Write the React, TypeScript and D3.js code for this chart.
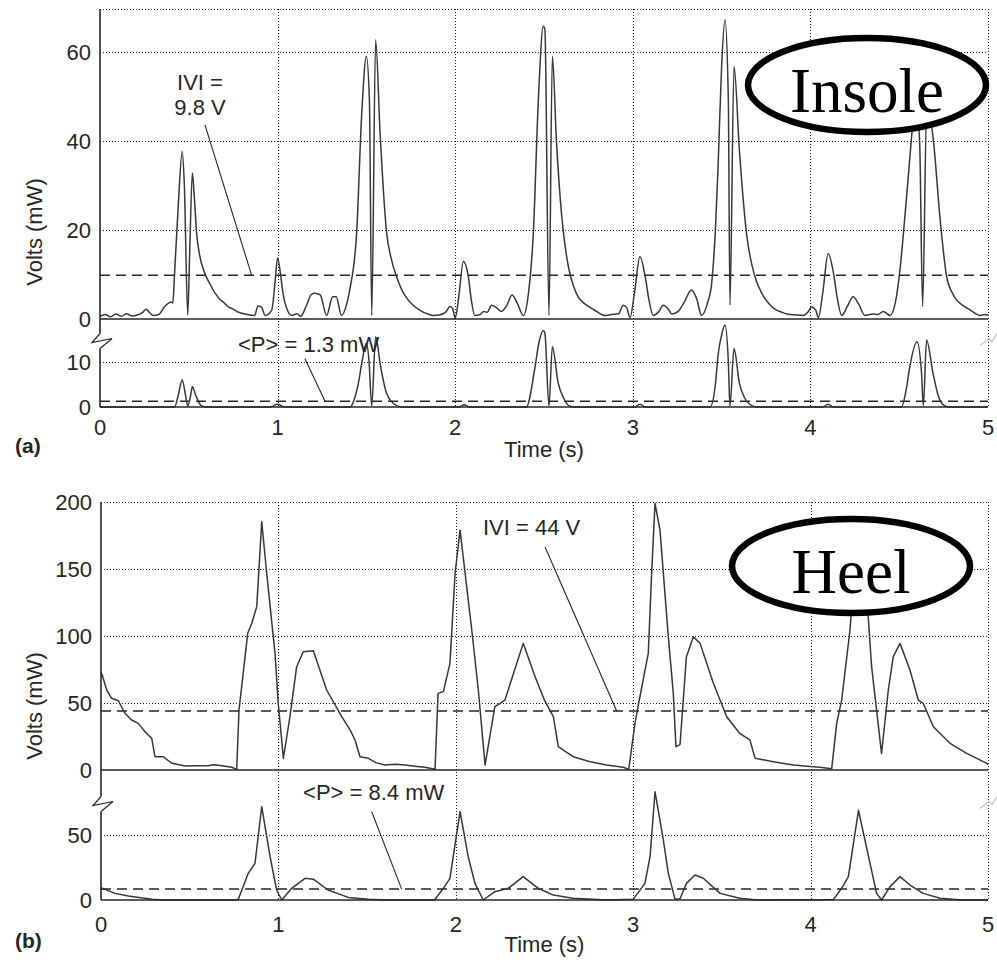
import React, { useEffect, useRef } from 'react'
import * as d3 from 'd3'

const W = 997
const H = 963

// time axis (s)
const timeTicks = [0, 1, 2, 3, 4, 5]

// (a) insole - |V| trace (top) and power trace (bottom)
const insoleVoltTicks = [0, 20, 40, 60]
const insolePowerTicks = [0, 10]
const insoleT = [
	0, 0.03, 0.06, 0.09, 0.12, 0.15, 0.18, 0.21, 0.24, 0.26, 0.28, 0.3, 0.33, 0.36, 0.38, 0.4, 0.41,
	0.42, 0.44, 0.463, 0.475, 0.494, 0.505, 0.52, 0.53, 0.544, 0.56, 0.59, 0.62, 0.648, 0.68, 0.7,
	0.72, 0.75, 0.78, 0.8, 0.83, 0.87, 0.89, 0.91, 0.93, 0.967, 0.985, 1.0, 1.015, 1.03, 1.05, 1.08,
	1.11, 1.13, 1.16, 1.19, 1.21, 1.24, 1.276, 1.31, 1.33, 1.36, 1.39, 1.41, 1.445, 1.473, 1.5,
	1.517, 1.53, 1.552, 1.577, 1.614, 1.64, 1.67, 1.7, 1.727, 1.76, 1.8, 1.84, 1.875, 1.91, 1.95,
	1.97, 1.985, 2.0, 2.02, 2.046, 2.074, 2.09, 2.11, 2.14, 2.16, 2.18, 2.205, 2.23, 2.26, 2.29,
	2.32, 2.35, 2.384, 2.41, 2.44, 2.468, 2.496, 2.505, 2.528, 2.547, 2.57, 2.6, 2.637, 2.665,
	2.693, 2.73, 2.768, 2.8, 2.843, 2.88, 2.92, 2.946, 2.965, 2.984, 3.01, 3.04, 3.07, 3.09, 3.115,
	3.145, 3.172, 3.2, 3.22, 3.256, 3.29, 3.33, 3.36, 3.387, 3.42, 3.444, 3.465, 3.48, 3.5, 3.519,
	3.538, 3.547, 3.57, 3.6, 3.64, 3.688, 3.73, 3.763, 3.8, 3.84, 3.87, 3.92, 3.96, 3.985, 4.007,
	4.03, 4.045, 4.07, 4.1, 4.13, 4.15, 4.176, 4.21, 4.24, 4.27, 4.307, 4.35, 4.38, 4.41, 4.448,
	4.48, 4.5, 4.54, 4.57, 4.59, 4.615, 4.632, 4.655, 4.69, 4.73, 4.767, 4.8, 4.82, 4.86, 4.9, 4.93,
	4.955, 4.98, 5.0,
]
const insoleV = [
	0.6, 1.0, 0.5, 1.1, 0.6, 1.2, 0.7, 0.9, 1.5, 2.2, 1.4, 0.8, 1.0, 2.6, 3.4, 3.8, 3.6, 10.3, 25,
	37.6, 30, 0.9, 15, 32.8, 28, 19.3, 14.5, 10.3, 7.8, 5.8, 4.2, 3.6, 2.8, 2.2, 1.5, 1.3, 1.0, 0.8,
	2.9, 2.6, 0.8, 2.0, 8, 13.7, 10.5, 5.8, 2.5, 0.8, 1.2, 0.6, 2.8, 5.5, 5.8, 5.4, 0.8, 5.0, 5.0,
	0.8, 3.5, 7.3, 19.3, 45.5, 59, 49, 0.8, 62.7, 41.8, 19.3, 13.5, 9.5, 6.5, 4.7, 3.2, 2.0, 1.2,
	0.8, 0.9, 1.7, 2.8, 2.4, 0.2, 5, 12.9, 9.5, 4.5, 0.8, 1.0, 1.7, 1.5, 3.1, 2.6, 1.7, 3.0, 5.4,
	3.5, 0.8, 5, 19.3, 49, 65.7, 65, 0.8, 59, 40, 23, 11.8, 7.5, 4.9, 3.4, 2.4, 1.6, 0.8, 1.0, 1.2,
	3.1, 2.6, 0.3, 6, 14, 9.5, 4.5, 0.8, 1.6, 3.1, 2.2, 1.1, 1.7, 3.8, 6.5, 4.5, 0.8, 3.5, 8, 20, 34,
	56.7, 67.2, 49, 3.1, 56.7, 38, 19.3, 9.5, 5.5, 3.6, 2.2, 1.5, 1.1, 0.9, 0.8, 1.5, 2.7, 2.0, 0.3,
	6, 14.7, 10.3, 5, 0.8, 3, 5, 3.5, 0.8, 1.1, 1.0, 1.7, 0.8, 4, 9.5, 26.7, 41, 50, 40, 2.8, 48, 41,
	22.6, 9.5, 5.8, 4.4, 3.0, 2.0, 1.2, 0.8, 1.0, 0.9,
]
const insolePT = [
	0, 0.42, 0.44, 0.463, 0.48, 0.494, 0.51, 0.52, 0.54, 0.57, 0.6, 0.96, 1.0, 1.04, 1.41, 1.43,
	1.455, 1.475, 1.5, 1.515, 1.53, 1.552, 1.58, 1.614, 1.67, 1.7, 2.02, 2.05, 2.08, 2.4, 2.45, 2.47,
	2.496, 2.505, 2.528, 2.547, 2.58, 2.61, 2.64, 2.67, 3.01, 3.04, 3.07, 3.435, 3.465, 3.48, 3.5,
	3.519, 3.538, 3.547, 3.57, 3.6, 3.63, 3.67, 3.7, 4.07, 4.1, 4.13, 4.513, 4.54, 4.56, 4.6, 4.625,
	4.636, 4.654, 4.69, 4.72, 4.75, 4.78, 5.0,
]
const insoleP = [
	0, 0, 2.5, 6, 3, 0.2, 2.5, 4.5, 2.5, 0.3, 0, 0, 0.6, 0, 0, 1.5, 5.3, 10, 14.2, 10, 0.2, 15.6, 9,
	3, 0.3, 0, 0, 0.5, 0, 0, 9, 14, 17, 16.4, 0.2, 13.4, 5.3, 2, 0.3, 0, 0, 0.6, 0, 0, 5, 11.5, 16,
	18.2, 10, 0.2, 13, 5.3, 2, 0.3, 0, 0, 0.6, 0, 0, 4, 9, 14.5, 8, 0.3, 14.9, 7.6, 2.5, 0.4, 0, 0,
]
const insoleVabs = 9.8
const insolePavg = 1.3

// (b) heel
const heelVoltTicks = [0, 50, 100, 150, 200]
const heelPowerTicks = [0, 50]
const heelT = [
	0, 0.007, 0.032, 0.06, 0.098, 0.135, 0.173, 0.21, 0.248, 0.286, 0.304, 0.351, 0.4, 0.473, 0.54,
	0.605, 0.635, 0.661, 0.7, 0.737, 0.765, 0.778, 0.827, 0.85, 0.878, 0.906, 0.934, 0.981, 0.999,
	1.028, 1.065, 1.103, 1.14, 1.197, 1.272, 1.357, 1.404, 1.432, 1.46, 1.507, 1.55, 1.6, 1.66,
	1.714, 1.77, 1.826, 1.883, 1.9, 1.93, 1.967, 1.996, 2.024, 2.09, 2.127, 2.165, 2.22, 2.25,
	2.277, 2.38, 2.447, 2.5, 2.55, 2.578, 2.606, 2.662, 2.757, 2.85, 2.944, 2.975, 3.01, 3.029,
	3.085, 3.104, 3.123, 3.151, 3.198, 3.226, 3.241, 3.264, 3.3, 3.339, 3.377, 3.452, 3.527, 3.6,
	3.658, 3.687, 3.79, 3.903, 3.98, 4.053, 4.119, 4.147, 4.175, 4.222, 4.265, 4.325, 4.344, 4.4,
	4.438, 4.466, 4.504, 4.56, 4.607, 4.635, 4.692, 4.786, 4.88, 4.993, 5.0,
]
const heelV = [
	73, 70.9, 59.7, 53.5, 51.7, 42.3, 37.3, 34.8, 28.6, 23.6, 9.9, 9.9, 5, 3, 3.2, 3.2, 4.0, 3.5,
	2.8, 2, 0.5, 44.8, 102, 109.5, 121.9, 185.3, 146.8, 87, 49.8, 8.7, 39.8, 77.1, 88.3, 89, 59.7,
	39.8, 29.9, 22.4, 9.9, 8.7, 5.5, 3.7, 4.2, 3.7, 2.8, 2, 0.5, 57.2, 58.5, 79.6, 146.8, 179,
	104.5, 59.7, 3.7, 47.3, 49.8, 52.2, 94.5, 69.6, 52, 39.8, 17.4, 14.9, 9.9, 6.2, 3.7, 2, 0.5,
	34.8, 48.5, 87, 146.8, 199, 179, 99.5, 57.2, 17.4, 19, 84.6, 99.5, 94.5, 64.7, 39.8, 27.4,
	22.4, 8.7, 6.2, 3.7, 2.8, 2, 1, 34.8, 52.2, 104.5, 180, 114, 77, 12.4, 59.7, 84.6, 94.5, 74.6,
	52.2, 49.8, 32.3, 19.9, 12.4, 5, 4,
]
const heelPT = [
	0, 0.007, 0.079, 0.154, 0.286, 0.35, 0.75, 0.774, 0.83, 0.868, 0.906, 0.953, 0.99, 1.019, 1.075,
	1.15, 1.197, 1.28, 1.394, 1.507, 1.6, 1.88, 1.93, 1.967, 2.024, 2.07, 2.108, 2.155, 2.22, 2.296,
	2.38, 2.465, 2.55, 2.66, 2.85, 3.0, 3.066, 3.095, 3.123, 3.17, 3.198, 3.236, 3.264, 3.3, 3.348,
	3.395, 3.49, 3.6, 3.7, 4.128, 4.175, 4.213, 4.27, 4.335, 4.372, 4.4, 4.448, 4.504, 4.56, 4.635,
	4.73, 4.85, 5.0,
]
const heelP = [
	9.5, 9, 5.1, 3.1, 0.5, 0, 0, 0.5, 20.5, 28.2, 71.8, 33.3, 7.7, 0, 9, 16.7, 16, 7.7, 2, 0.5, 0, 0,
	9, 16.7, 68, 33.3, 12.8, 0, 6.4, 9, 18, 9, 3.8, 1.3, 0, 0.5, 12.8, 33.3, 83.3, 46, 20.5, 0.5, 1,
	12.8, 19.2, 16.7, 5.1, 1.3, 0, 0.3, 9, 18, 69, 28.2, 5.1, 0, 10.3, 18, 11.5, 5.1, 1.3, 0, 0,
]
const heelVabs = 44
const heelPavg = 8.4

const FONT = "'Liberation Sans', Arial, Helvetica, sans-serif"
const INK = '#262626'

function drawPanel(svg, p) {
	const x = d3.scaleLinear().domain([0, 5]).range([p.left, p.right])
	const yM = d3.scaleLinear().domain([0, p.mainMax]).range([p.mainZero, p.mainTop])
	const yS = d3.scaleLinear().domain([0, p.subMax]).range([p.subZero, p.subTop])
	const g = svg.append('g')

	const grid = g
		.append('g')
		.attr('stroke', '#1e1e1e')
		.attr('stroke-width', 1)
		.attr('stroke-dasharray', '1,2')
		.attr('shape-rendering', 'crispEdges')
	const hMain = p.mainTicks.filter((d) => d > 0).concat([p.mainMax])
	grid
		.selectAll(null)
		.data(hMain)
		.enter()
		.append('line')
		.attr('x1', x(0))
		.attr('x2', x(5))
		.attr('y1', (d) => Math.round(yM(d)) + 0.5)
		.attr('y2', (d) => Math.round(yM(d)) + 0.5)
	grid
		.selectAll(null)
		.data(p.subTicks.filter((d) => d > 0))
		.enter()
		.append('line')
		.attr('x1', x(0))
		.attr('x2', x(5))
		.attr('y1', (d) => Math.round(yS(d)) + 0.5)
		.attr('y2', (d) => Math.round(yS(d)) + 0.5)
	grid
		.selectAll(null)
		.data(timeTicks.filter((d) => d > 0))
		.enter()
		.append('line')
		.attr('x1', (d) => Math.round(x(d)) + 0.5)
		.attr('x2', (d) => Math.round(x(d)) + 0.5)
		.attr('y1', yM(p.mainMax))
		.attr('y2', yS(0))

	// mean lines
	const dash = g.append('g').attr('stroke', INK).attr('stroke-width', 1.5).attr('stroke-dasharray', '10,6')
	dash.append('line').attr('x1', x(0)).attr('x2', x(5)).attr('y1', yM(p.vAbs)).attr('y2', yM(p.vAbs))
	dash.append('line').attr('x1', x(0)).attr('x2', x(5)).attr('y1', yS(p.pAvg)).attr('y2', yS(p.pAvg))

	// traces
	const lineM = d3
		.line()
		.curve(p.curve)
		.x((d) => x(d[0]))
		.y((d) => yM(d[1]))
	const lineS = d3
		.line()
		.curve(p.curve)
		.x((d) => x(d[0]))
		.y((d) => yS(d[1]))
	g.append('path')
		.attr('d', lineM(p.vT.map((t, i) => [t, p.v[i]])))
		.attr('fill', 'none')
		.attr('stroke', '#383838')
		.attr('stroke-width', 1.5)
		.attr('stroke-linejoin', 'round')
	g.append('path')
		.attr('d', lineS(p.pT.map((t, i) => [t, p.p[i]])))
		.attr('fill', 'none')
		.attr('stroke', '#383838')
		.attr('stroke-width', 1.5)
		.attr('stroke-linejoin', 'round')

	// zero lines and left axis with break
	const ax = g.append('g').attr('stroke', INK).attr('stroke-width', 1.6).attr('fill', 'none')
	ax.append('line').attr('x1', x(0)).attr('x2', x(5)).attr('y1', yM(0)).attr('y2', yM(0))
	ax.append('line').attr('x1', x(0)).attr('x2', x(5)).attr('y1', yS(0)).attr('y2', yS(0))
	const bt = yS(p.subMax)
	ax.append('line').attr('x1', x(0)).attr('x2', x(0)).attr('y1', yM(p.mainMax)).attr('y2', bt - 6)
	ax.append('line').attr('x1', x(0)).attr('x2', x(0)).attr('y1', bt + 9).attr('y2', yS(0))
	ax.append('polyline')
		.attr('stroke-width', 1.2)
		.attr('points', `${x(0)},${bt - 6} ${x(0) - 8},${bt + 3} ${x(0) + 12},${bt - 1} ${x(0)},${bt + 9}`)
	g.append('polyline')
		.attr('fill', 'none')
		.attr('stroke', '#c4c4c4')
		.attr('stroke-width', 1.2)
		.attr('points', `${x(5) - 8},${bt + 6} ${x(5) + 1},${bt - 1} ${x(5) + 4},${bt + 2} ${x(5) + 9},${bt - 6}`)

	// tick labels
	const lab = g.append('g').attr('font-family', FONT).attr('font-size', 22).attr('fill', INK)
	lab.selectAll(null)
		.data(p.mainTicks)
		.enter()
		.append('text')
		.attr('x', p.left - 9)
		.attr('y', (d) => yM(d))
		.attr('dy', '0.36em')
		.attr('text-anchor', 'end')
		.text((d) => d)
	lab.selectAll(null)
		.data(p.subTicks)
		.enter()
		.append('text')
		.attr('x', p.left - 9)
		.attr('y', (d) => yS(d))
		.attr('dy', '0.36em')
		.attr('text-anchor', 'end')
		.text((d) => d)
	lab.selectAll(null)
		.data(timeTicks)
		.enter()
		.append('text')
		.attr('x', (d) => x(d))
		.attr('y', p.tickY)
		.attr('text-anchor', 'middle')
		.text((d) => d)
	lab.append('text')
		.attr('x', (p.left + p.right) / 2)
		.attr('y', p.titleY)
		.attr('text-anchor', 'middle')
		.text('Time (s)')
	lab.append('text')
		.attr('transform', `translate(42, ${p.yLabelY}) rotate(-90)`)
		.attr('text-anchor', 'middle')
		.text('Volts (mW)')
	lab.append('text')
		.attr('x', 15)
		.attr('y', p.titleY - 4)
		.attr('font-weight', 'bold')
		.attr('font-size', 21)
		.text(p.letter)

	// annotations
	p.notes.forEach((n) => {
		const ys = n.sub ? yS : yM
		n.lines.forEach((s, i) => {
			lab.append('text')
				.attr('x', x(n.t))
				.attr('y', ys(n.v) + i * 25)
				.attr('text-anchor', n.anchor)
				.text(s)
		})
		g.append('line')
			.attr('x1', x(n.from[0]))
			.attr('y1', ys(n.from[1]))
			.attr('x2', x(n.to[0]))
			.attr('y2', ys(n.to[1]))
			.attr('stroke', INK)
			.attr('stroke-width', 1.1)
	})

	// location badge
	svg.append('ellipse')
		.attr('cx', p.badge.cx)
		.attr('cy', p.badge.cy)
		.attr('rx', 119)
		.attr('ry', 47)
		.attr('fill', '#fff')
		.attr('stroke', '#000')
		.attr('stroke-width', 6.5)
	svg.append('text')
		.attr('x', p.badge.cx)
		.attr('y', p.badge.cy + 27)
		.attr('text-anchor', 'middle')
		.attr('font-family', "'Liberation Serif', 'Times New Roman', serif")
		.attr('font-size', 63)
		.attr('fill', '#000')
		.text(p.badge.text)
}

export default function App() {
	const ref = useRef(null)

	useEffect(() => {
		const svg = d3.select(ref.current)
		svg.selectAll('*').remove()

		drawPanel(svg, {
			left: 100,
			right: 988,
			mainTop: 9,
			mainZero: 319,
			mainMax: 69.6,
			subTop: 339.5,
			subZero: 407,
			subMax: 15,
			mainTicks: insoleVoltTicks,
			subTicks: insolePowerTicks,
			vT: insoleT,
			v: insoleV,
			pT: insolePT,
			p: insoleP,
			vAbs: insoleVabs,
			pAvg: insolePavg,
			curve: d3.curveMonotoneX,
			tickY: 435,
			titleY: 457,
			yLabelY: 232,
			letter: '(a)',
			notes: [
				{ t: 0.563, v: 51.4, sub: false, anchor: 'middle', lines: ['IVI =', '9.8 V'], from: [0.591, 43.6], to: [0.854, insoleVabs] },
				{ t: 0.777, v: 12.2, sub: true, anchor: 'start', lines: ['<P> = 1.3 mW'], from: [1.154, 10.7], to: [1.267, insolePavg] },
			],
			badge: { cx: 867, cy: 85, text: 'Insole' },
		})

		drawPanel(svg, {
			left: 101,
			right: 988,
			mainTop: 502,
			mainZero: 770,
			mainMax: 200,
			subTop: 802.5,
			subZero: 900,
			subMax: 75,
			mainTicks: heelVoltTicks,
			subTicks: heelPowerTicks,
			vT: heelT,
			v: heelV,
			pT: heelPT,
			p: heelP,
			vAbs: heelVabs,
			pAvg: heelPavg,
			curve: d3.curveLinear,
			tickY: 932,
			titleY: 952,
			yLabelY: 706,
			letter: '(b)',
			notes: [
				{ t: 2.153, v: 175.4, sub: false, anchor: 'start', lines: ['IVI = 44 V'], from: [2.503, 166.4], to: [2.907, heelVabs] },
				{ t: 1.139, v: 76.9, sub: true, anchor: 'start', lines: ['<P> = 8.4 mW'], from: [1.526, 67.9], to: [1.695, heelPavg] },
			],
			badge: { cx: 851, cy: 566, text: 'Heel' },
		})
	}, [])

	return (
		<svg
			ref={ref}
			width={W}
			height={H}
			viewBox={`0 0 ${W} ${H}`}
			style={{ position: 'absolute', left: 0, top: 0, background: '#fff' }}
		/>
	)
}
